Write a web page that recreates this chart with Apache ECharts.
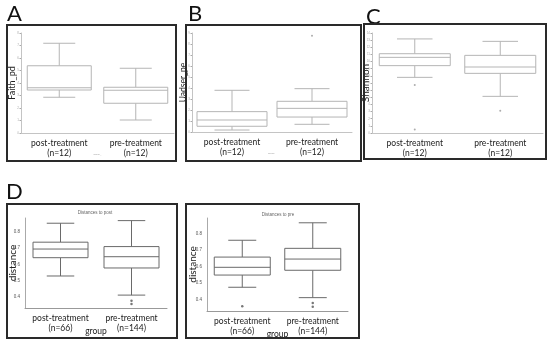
<!DOCTYPE html>
<html><head><meta charset="utf-8">
<script src="https://cdn.jsdelivr.net/npm/echarts@6/dist/echarts.min.js"></script>
<style>html,body{margin:0;padding:0;background:#fff}#c{width:550px;height:345px}</style>
</head><body><div id="c"></div>
<script>
// ---- data ----
const catsABC = ['post-treatment\n(n=12)', 'pre-treatment\n(n=12)'];
const catsD = ['post-treatment\n(n=66)', 'pre-treatment\n(n=144)'];
// box stats: [min, Q1, median, Q3, max]
const faithBox = [[2.86, 3.44, 3.62, 5.38, 7.18], [1.04, 2.38, 3.42, 3.66, 5.18]];
const faithOut = [];
const pielouBox = [[0.18, 0.52, 1.09, 1.85, 3.79], [0.70, 1.36, 2.15, 2.79, 3.94]];
const pielouOut = [[1, 8.75]];
const shannonBox = [[7.79, 9.43, 10.59, 11.10, 13.17], [5.13, 8.35, 9.24, 10.87, 12.83]];
const shannonOut = [[0, 6.72], [0, 0.50], [1, 3.12]];
const distPostBox = [[0.529, 0.641, 0.694, 0.736, 0.852], [0.412, 0.578, 0.647, 0.709, 0.868]];
const distPostOut = [[1, 0.377], [1, 0.357]];
const distPreBox = [[0.473, 0.547, 0.594, 0.656, 0.758], [0.410, 0.576, 0.644, 0.709, 0.864]];
const distPreOut = [[0, 0.358], [1, 0.378], [1, 0.355]];
const distTicks = [0.4, 0.5, 0.6, 0.7, 0.8];

const FONT = 'Lato, "Open Sans", sans-serif';
const chart = echarts.init(document.getElementById('c'), null, {renderer: 'canvas'});

function boxRender(boxPx, color, lw) {
  return function (params, api) {
    const xi = api.value(0);
    const p = [1, 2, 3, 4, 5].map(i => api.coord([xi, api.value(i)]));
    const cx = p[0][0], half = boxPx / 2, cap = half / 2;
    const st = {stroke: color, lineWidth: lw, fill: null};
    const L = (x1, y1, x2, y2) => ({type: 'line', shape: {x1, y1, x2, y2}, style: st});
    return {type: 'group', children: [
      L(cx, p[3][1], cx, p[4][1]),
      L(cx - cap, p[4][1], cx + cap, p[4][1]),
      L(cx, p[1][1], cx, p[0][1]),
      L(cx - cap, p[0][1], cx + cap, p[0][1]),
      {type: 'rect', shape: {x: cx - half, y: p[3][1], width: boxPx, height: p[1][1] - p[3][1]}, style: {stroke: color, lineWidth: lw, fill: '#fff'}},
      L(cx - half, p[2][1], cx + half, p[2][1])
    ]};
  };
}

const grids = [
  {left: 21, top: 33, width: 153, height: 100},
  {left: 192, top: 33, width: 160, height: 99},
  {left: 372, top: 33, width: 171, height: 100},
  {left: 25, top: 218, width: 142, height: 90},
  {left: 207, top: 218, width: 141, height: 93}
];

function xAx(i, cats, light, groupName) {
  const big = groupName === 'group';
  return {
    type: 'category', gridIndex: i, data: cats,
    axisLine: {lineStyle: {color: light ? '#c4c4c4' : '#999', width: 1}},
    axisTick: {show: false},
    axisLabel: {interval: 0, fontSize: 8.5, color: '#222', fontFamily: FONT, lineHeight: 10, margin: 5},
    name: groupName, nameLocation: 'middle', nameMoveOverlap: false,
    nameGap: big ? 19 : 20,
    nameTextStyle: big ? {fontSize: 8.5, color: '#222', fontFamily: FONT} : {fontSize: 2.5, color: '#999'}
  };
}
function yAx(i, name, min, max, interval, nameSize, nameGap, light) {
  const o = {
    type: 'value', gridIndex: i, min, max,
    name, nameLocation: 'middle', nameGap, nameMoveOverlap: false,
    nameTextStyle: {fontSize: nameSize, color: '#222', fontFamily: FONT},
    splitLine: {show: false},
    axisLine: {show: true, lineStyle: {color: light ? '#c4c4c4' : '#aaa'}},
    axisTick: {show: light, length: 1.5, lineStyle: {color: '#aaa'}},
    axisLabel: {fontSize: light ? 3 : 4.5, color: light ? '#aaa' : '#555', margin: light ? 2 : 5}
  };
  if (interval) o.interval = interval;
  return o;
}

const yD1 = yAx(3, 'distance', 0.333, 0.884, null, 10, 7, false);
yD1.axisLabel.customValues = distTicks; yD1.axisTick.customValues = distTicks;
yD1.axisLabel.formatter = v => v.toFixed(1);
const yD2 = yAx(4, 'distance', 0.329, 0.893, null, 10, 9, false);
yD2.axisLabel.customValues = distTicks; yD2.axisTick.customValues = distTicks;
yD2.axisLabel.formatter = v => v.toFixed(1);

const boxSets = [
  [faithBox, faithOut, 64, '#b5b5b5', 1],
  [pielouBox, pielouOut, 70, '#b5b5b5', 1],
  [shannonBox, shannonOut, 71, '#b5b5b5', 1],
  [distPostBox, distPostOut, 55, '#6a6a6a', 1],
  [distPreBox, distPreOut, 56, '#6a6a6a', 1]
];
const series = [];
boxSets.forEach((s, i) => {
  series.push({
    type: 'custom', xAxisIndex: i, yAxisIndex: i,
    renderItem: boxRender(s[2], s[3], s[4]),
    encode: {x: 0, y: [1, 2, 3, 4, 5]},
    data: s[0].map((b, k) => [k].concat(b)), silent: true
  });
  series.push({
    type: 'scatter', xAxisIndex: i, yAxisIndex: i, data: s[1],
    symbolSize: i < 3 ? 2 : 2.5, itemStyle: {color: i < 3 ? '#999' : '#555'}, silent: true
  });
});

const letter = (t, l, tp) => ({text: t, left: l, top: tp, textStyle: {fontSize: 22, fontWeight: 'normal', color: '#111', fontFamily: FONT}, padding: 0});
const frame = (x, y, w, h) => ({type: 'rect', shape: {x, y, width: w, height: h}, style: {fill: null, stroke: '#2a2a2a', lineWidth: 2}, z: 10});

chart.setOption({
  animation: false,
  title: [
    letter('A', 7, 3), letter('B', 188, 3), letter('C', 366, 6), letter('D', 6, 181),
    {text: 'Distances to post', left: 95, top: 210, textAlign: 'center', padding: 0, textStyle: {fontSize: 4.5, fontWeight: 'normal', color: '#666'}},
    {text: 'Distances to pre', left: 278, top: 212, textAlign: 'center', padding: 0, textStyle: {fontSize: 4.5, fontWeight: 'normal', color: '#666'}}
  ],
  grid: grids,
  xAxis: [
    xAx(0, catsABC, true, 'group_'), xAx(1, catsABC, true, 'group_'), xAx(2, catsABC, true, ''),
    xAx(3, catsD, false, 'group'), xAx(4, catsD, false, 'group')
  ],
  yAxis: [
    yAx(0, 'Faith_pd', 0, 8, 1, 9, 4, true),
    yAx(1, 'Uadser_pe', 0, 9, 1, 8.5, 4, true),
    yAx(2, 'Shannon', 0, 14, 1, 10, 1, true),
    yD1, yD2
  ],
  series,
  graphic: [
    frame(7, 25, 169, 136), frame(186, 25, 175, 136), frame(364, 24, 182, 135),
    frame(7, 204, 170, 134), frame(186, 204, 173, 134)
  ]
});
</script></body></html>
